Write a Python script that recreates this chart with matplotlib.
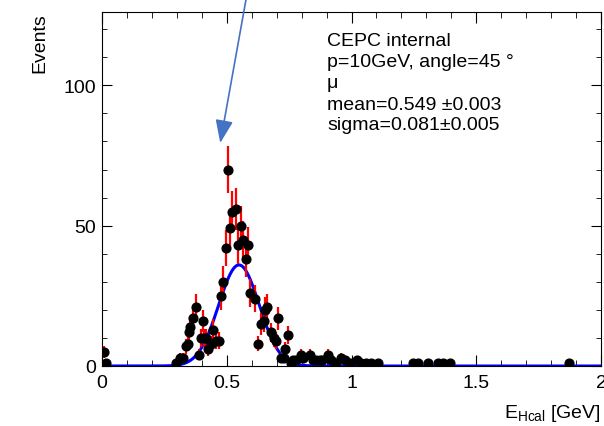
import numpy as np
import matplotlib
matplotlib.use("Agg")
import matplotlib.pyplot as plt

plt.rcParams['font.family'] = ['Liberation Sans', 'DejaVu Sans']
plt.rcParams['mathtext.fontset'] = 'custom'
plt.rcParams['mathtext.rm'] = 'Liberation Sans'
plt.rcParams['mathtext.it'] = 'Liberation Sans:italic'

# histogram points (non-empty bins)
e_hcal = [0.008, 0.018,
          0.296, 0.312, 0.324, 0.336, 0.346, 0.348, 0.354, 0.364, 0.375, 0.389,
          0.396, 0.405, 0.410, 0.416, 0.425, 0.435, 0.445, 0.456, 0.469, 0.475,
          0.485, 0.496, 0.505, 0.512, 0.522, 0.536, 0.546, 0.556, 0.566, 0.576,
          0.586, 0.593, 0.615, 0.625, 0.636, 0.648, 0.652, 0.663, 0.676, 0.689,
          0.699, 0.705, 0.719, 0.728, 0.735, 0.745, 0.759, 0.766, 0.779, 0.797,
          0.804, 0.832, 0.845, 0.859, 0.872, 0.883, 0.905, 0.919, 0.936, 0.959,
          0.972, 0.992, 1.021, 1.039, 1.059, 1.079, 1.105, 1.245, 1.265, 1.305,
          1.345, 1.365, 1.395, 1.872]
events = [5, 1,
          1, 3, 3, 7, 8, 12, 14, 17, 21, 4,
          10, 16, 10, 10, 6, 8, 13, 9, 9, 25,
          30, 42, 70, 49, 55, 56, 43, 50, 45, 38,
          43, 26, 24, 8, 15, 16, 20, 21, 12, 10,
          9, 17, 3, 3, 6, 11, 1, 2, 2, 4,
          3, 4, 2, 2, 2, 2, 4, 2, 1, 3,
          2, 1, 2, 1, 1, 1, 1, 1, 1, 1,
          1, 1, 1, 1]

# gaussian fit
fit_mean = 0.549
fit_sigma = 0.081
fit_amp = 36.0

labels = ["CEPC internal", "p=10GeV, angle=45 \u00b0", "\u03bc",
          "mean=0.549 \u00b10.003", "sigma=0.081\u00b10.005"]

x = np.array(e_hcal)
y = np.array(events, dtype=float)
err = np.sqrt(y)

fig = plt.figure(figsize=(6.04, 4.27), dpi=100)
ax = fig.add_axes([102/604, 60/427, 499/604, 353.7/427])

ax.errorbar(x, y, yerr=err, fmt='o', color='black', ms=6.3,
            ecolor='red', elinewidth=1.6, capsize=0, zorder=3)

xf = np.linspace(0, 2, 800)
yf = fit_amp*np.exp(-0.5*((xf-fit_mean)/fit_sigma)**2)
ax.plot(xf, yf, color='blue', lw=2.2, zorder=2)

ax.set_xlim(0, 2)
ax.set_ylim(0, 126)
ax.set_xticks([0, 0.5, 1, 1.5, 2])
ax.set_xticklabels(['0', '0.5', '1', '1.5', '2'])
ax.set_xticks(np.arange(0, 2.01, 0.1), minor=True)
ax.set_yticks([0, 50, 100])
ax.set_yticks(np.arange(0, 126, 10), minor=True)
ax.tick_params(which='both', direction='in', top=True, right=True, labelsize=14)
ax.tick_params(axis='x', which='major', length=8, pad=6)
ax.tick_params(axis='x', which='minor', length=4)
ax.tick_params(axis='y', which='major', length=7, pad=4)
ax.tick_params(axis='y', which='minor', length=3.5)

ax.set_ylabel('Events', loc='top', fontsize=14, labelpad=11)
ax.set_xlabel(r'E$_{\mathrm{Hcal}}$ [GeV]', loc='right', fontsize=14, labelpad=8)

for i, t in enumerate(labels):
    ax.text(327/604, 1 - (42 + 21*i)/427, t, transform=fig.transFigure,
            fontsize=14, ha='left', va='center')

ax.annotate('', xy=(0.472, 78.5), xycoords='data',
            xytext=(247, 432), textcoords='figure pixels',
            arrowprops=dict(arrowstyle='-|>,head_length=0.7,head_width=0.27',
                            mutation_scale=20, color='#4472c4', lw=1.2),
            annotation_clip=False)

fig.savefig('out.png', dpi=100)
